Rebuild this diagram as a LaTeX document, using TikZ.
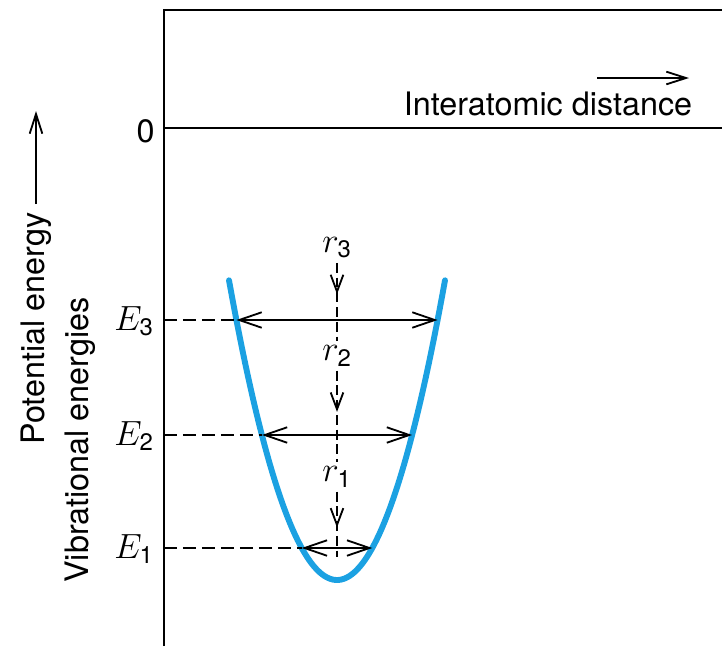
\documentclass[tikz,border=0pt]{standalone}
\usepackage{amsmath}
\usepackage{fontspec}
\setsansfont{TeX Gyre Heros}
\usepackage{xcolor}
\usetikzlibrary{arrows.meta, positioning, calc, decorations.markings}
\definecolor{wellblue}{HTML}{1BA1E2}
\newcommand{\lvlsub}[1]{\text{\fontsize{17}{17}\selectfont\sffamily #1}}

\begin{document}
\begin{tikzpicture}[
    x=0.025cm, y=-0.025cm,
    axis/.style={line width=1.6pt},
    lbl/.style={font={\fontsize{23}{27}\selectfont\sffamily}, inner sep=0pt},
    lvl/.style={font={\fontsize{24}{28}\selectfont}, inner sep=0pt},
    sep/.style={font={\fontsize{24}{28}\selectfont}, inner sep=3pt},
    well/.style={line width=4.2pt, wellblue, line cap=round},
    axarrow/.style={-{Straight Barb[length=14pt, width=9pt]}, line width=1.3pt},
    span/.style={{Straight Barb[length=16pt, width=11pt]}-{Straight Barb[length=16pt, width=11pt]}, line width=1.3pt},
    guide/.style={dash pattern=on 9pt off 4.5pt, line width=1.3pt},
    downline/.style={dash pattern=on 7pt off 3.5pt, line width=1.3pt, postaction={decorate},
        decoration={markings, mark=at position #1 with {\arrow{Straight Barb[length=12pt, width=9pt]}}}},
]
    \useasboundingbox (0,0) rectangle (722,646);

    % frame and zero line
    \coordinate (origin) at (164,646);
    \coordinate (ytop)   at (164,10);
    \coordinate (xtop)   at (722,10);
    \coordinate (zl)     at (164,128);
    \coordinate (zr)     at (722,128);
    \draw[axis] (origin) -- (ytop) -- (xtop);
    \draw[axis] (zl) -- (zr);
    \node[lbl, anchor=base east] (zero) at (155,142) {0};

    % axis labels
    \node[lbl, anchor=base] (dist) at (548,115) {Interatomic distance};
    \coordinate (distfrom) at (597,78);
    \coordinate (distto)   at (689,78);
    \draw[axarrow] (distfrom) -- (distto);

    \node[lbl, rotate=90, anchor=west] (pe) at (36,445) {Potential energy};
    \coordinate (petip) at (36,111);
    \draw[axarrow, shorten <=6pt] (pe.east) -- (petip);
    \node[lbl, rotate=90, anchor=west] (vib) at (80,583) {Vibrational energies};

    % potential well
    \draw[well] plot[domain=229:445, samples=80] (\x, {580-0.0257*(\x-337)^2});

    % vibrational levels
    \foreach \n/\y/\d in {1/548/35.3, 2/435/75.1, 3/320/100.6} {
        \node[lvl, anchor=base east] (E\n) at (154,\y+10) {$E_{\lvlsub{\n}}$};
        \coordinate (ax\n) at (164,\y);
        \coordinate (wl\n) at ({337-\d},\y);
        \coordinate (wr\n) at ({337+\d},\y);
        \draw[guide] (ax\n) -- (wl\n);
        \draw[span] (wl\n) -- (wr\n);
    }

    % amplitudes
    \node[sep] (r3) at (337,248) {$r_{\lvlsub{3}}$};
    \node[sep] (r2) at (337,356) {$r_{\lvlsub{2}}$};
    \node[sep] (r1) at (337,477) {$r_{\lvlsub{1}}$};
    \coordinate (rbase) at (337,557);
    \draw[downline=0.4]  (r3) -- (r2);
    \draw[downline=0.45] (r2) -- (r1);
    \draw[downline=0.55] (r1) -- (rbase);
\end{tikzpicture}
\end{document}
